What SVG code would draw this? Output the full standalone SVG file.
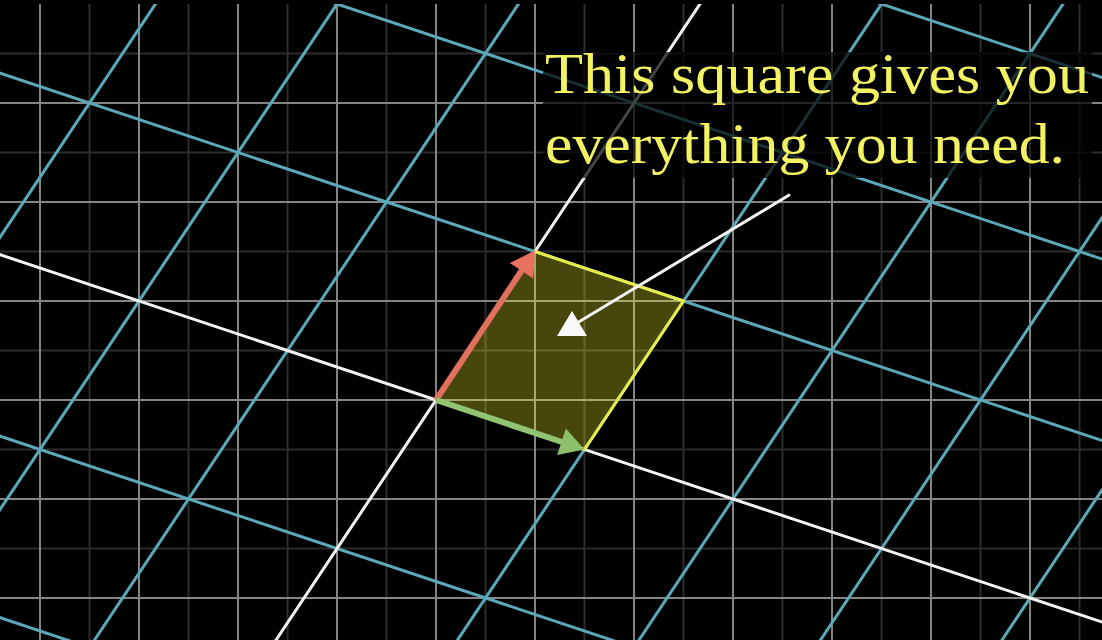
<svg xmlns="http://www.w3.org/2000/svg" width="1102" height="640" viewBox="0 0 1102 640">
<defs>
<style>
.gb{stroke:#858585;stroke-width:2}
.gf{stroke:#2c2c2c;stroke-width:2}
.bl{stroke:#5aa8b8;stroke-width:3;fill:none}
.ax{stroke:#f2f2f2;stroke-width:3;fill:none}
.txt{font-family:"Liberation Serif","DejaVu Serif",serif;font-size:57px;fill:#f2f262}
</style>
</defs>
<rect width="1102" height="640" fill="#000"/>
<g id="background-grid">
<g class="gf">
<line x1="89.5" y1="0" x2="89.5" y2="640"/><line x1="188.5" y1="0" x2="188.5" y2="640"/><line x1="287.5" y1="0" x2="287.5" y2="640"/><line x1="386.5" y1="0" x2="386.5" y2="640"/><line x1="485.5" y1="0" x2="485.5" y2="640"/><line x1="584.5" y1="0" x2="584.5" y2="640"/><line x1="683.5" y1="0" x2="683.5" y2="640"/><line x1="782.5" y1="0" x2="782.5" y2="640"/><line x1="881.5" y1="0" x2="881.5" y2="640"/><line x1="980.5" y1="0" x2="980.5" y2="640"/><line x1="1079.5" y1="0" x2="1079.5" y2="640"/>
<line x1="0" y1="53.5" x2="1102" y2="53.5"/><line x1="0" y1="152.5" x2="1102" y2="152.5"/><line x1="0" y1="251.5" x2="1102" y2="251.5"/><line x1="0" y1="350.5" x2="1102" y2="350.5"/><line x1="0" y1="449.5" x2="1102" y2="449.5"/><line x1="0" y1="548.5" x2="1102" y2="548.5"/>
</g>
<g class="gb">
<line x1="40" y1="0" x2="40" y2="640"/><line x1="139" y1="0" x2="139" y2="640"/><line x1="238" y1="0" x2="238" y2="640"/><line x1="337" y1="0" x2="337" y2="640"/><line x1="436" y1="0" x2="436" y2="640"/><line x1="535" y1="0" x2="535" y2="640"/><line x1="634" y1="0" x2="634" y2="640"/><line x1="733" y1="0" x2="733" y2="640"/><line x1="832" y1="0" x2="832" y2="640"/><line x1="931" y1="0" x2="931" y2="640"/><line x1="1030" y1="0" x2="1030" y2="640"/>
<line x1="0" y1="103" x2="1102" y2="103"/><line x1="0" y1="202" x2="1102" y2="202"/><line x1="0" y1="301" x2="1102" y2="301"/><line x1="0" y1="400" x2="1102" y2="400"/><line x1="0" y1="499" x2="1102" y2="499"/><line x1="0" y1="598" x2="1102" y2="598"/>
</g>
</g>
<g id="transformed-grid">
<g class="bl">
<line x1="171.5" y1="-20" x2="-281.8" y2="660"/>
<line x1="353" y1="-20" x2="-100.3" y2="660"/>
<line x1="534.5" y1="-20" x2="81.2" y2="660"/>
<line x1="897.5" y1="-20" x2="444.2" y2="660"/>
<line x1="1079" y1="-20" x2="625.7" y2="660"/>
<line x1="1260.5" y1="-20" x2="807.2" y2="660"/>
<line x1="1442" y1="-20" x2="988.7" y2="660"/>
<line x1="-20" y1="611" x2="1122" y2="991.7"/>
<line x1="-20" y1="429.5" x2="1122" y2="810.2"/>
<line x1="-20" y1="66.5" x2="1122" y2="447.2"/>
<line x1="-20" y1="-115" x2="1122" y2="265.7"/>
<line x1="-20" y1="-296.5" x2="1122" y2="84.2"/>
</g>
<g class="ax">
<line x1="716" y1="-20" x2="262.7" y2="660"/>
<line x1="-20" y1="248" x2="1122" y2="628.7"/>
</g>
</g>
<rect x="0" y="0" width="1102" height="4" fill="#000"/>
<g id="unit-square">
<polygon points="436,400 584.5,449.5 683.5,301 535,251.5" fill="#ffff30" fill-opacity="0.28" stroke="#eaea48" stroke-width="3" stroke-linejoin="round"/>
</g>
<g id="vector-j">
<line x1="436" y1="400" x2="522" y2="270" stroke="#e2705e" stroke-width="6"/>
<polygon points="535,250.5 533.2,278.4 509.9,262.9" fill="#e8705f"/>
</g>
<g id="vector-i">
<line x1="436" y1="400" x2="562" y2="442" stroke="#90c472" stroke-width="6"/>
<polygon points="584.5,449.5 557.1,455.1 565.9,428.5" fill="#8cc06a"/>
</g>
<g id="label">
<rect x="543" y="52" width="549" height="126" fill="#000" fill-opacity="0.72"/>
<text class="txt" x="545" y="93" textLength="544" lengthAdjust="spacingAndGlyphs">This square gives you</text>
<text class="txt" x="545" y="163" textLength="520" lengthAdjust="spacingAndGlyphs">everything you need.</text>
</g>
<g id="connectors">
<line x1="790" y1="194.5" x2="577" y2="323" stroke="#f5f5f5" stroke-width="3"/>
<polygon points="572,311 557,336 587,336" fill="#fafafa"/>
</g>
</svg>
